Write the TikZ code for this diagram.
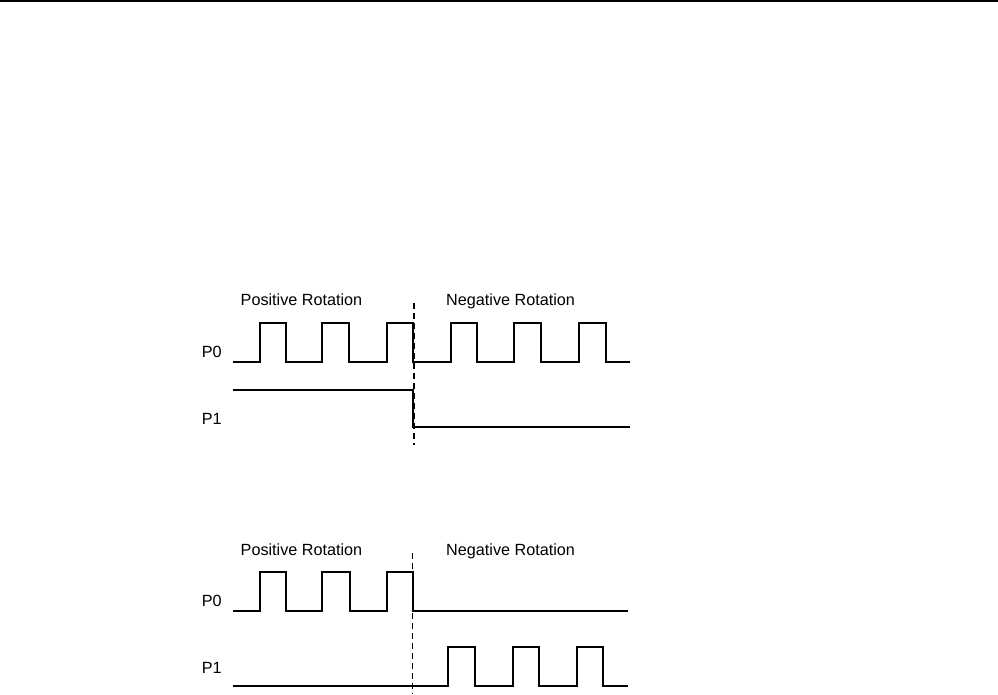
\documentclass[tikz,border=0pt]{standalone}
\usepackage{fontspec}
\setmainfont{Liberation Sans}
\begin{document}
\begin{tikzpicture}[x=1pt,y=-1pt,
  wave/.style={line width=2.2pt,line join=miter},
  marker/.style={line width=1.5pt,dash pattern=on 6pt off 4pt},
  lbl/.style={font=\fontsize{16.2}{19}\selectfont,anchor=base west,inner sep=0pt}]
\useasboundingbox (0,0) rectangle (998,694);
\draw[line width=1.6pt] (0,0.8) -- (998,0.8);
% ---------- top diagram ----------
\node[lbl] (tpos) at (240.5,305.7) {Positive Rotation};
\node[lbl] (tneg) at (446,305.7) {Negative Rotation};
\node[lbl] (tp0) at (201.7,357.3) {P0};
\node[lbl] (tp1) at (201.7,424) {P1};
\draw[wave] (233,362) -- (260,362) -- (260,323.3) -- (285.7,323.3) -- (285.7,362)
  -- (321.7,362) -- (321.7,323.3) -- (349.3,323.3) -- (349.3,362)
  -- (387.3,362) -- (387.3,323.3) -- (413.3,323.3) -- (413.3,362)
  -- (451,362) -- (451,323.3) -- (476.7,323.3) -- (476.7,362)
  -- (514.3,362) -- (514.3,323.3) -- (540.7,323.3) -- (540.7,362)
  -- (579.3,362) -- (579.3,323.3) -- (605.7,323.3) -- (605.7,362) -- (630,362);
\draw[wave] (233,390) -- (413,390) -- (413,426.7) -- (630,426.7);
\coordinate (tdtop) at (414,303);
\coordinate (tdbot) at (414,445);
\draw[marker] (tdtop) -- (tdbot);
% ---------- bottom diagram ----------
\node[lbl] (bpos) at (240.5,555.7) {Positive Rotation};
\node[lbl] (bneg) at (446,555.7) {Negative Rotation};
\node[lbl] (bp0) at (201.7,606.7) {P0};
\node[lbl] (bp1) at (201.7,673.3) {P1};
\draw[wave] (233,611) -- (260,611) -- (260,572.3) -- (285.7,572.3) -- (285.7,611)
  -- (321.7,611) -- (321.7,572.3) -- (350,572.3) -- (350,611)
  -- (387.3,611) -- (387.3,572.3) -- (412.7,572.3) -- (412.7,611) -- (628,611);
\draw[wave] (233,685.7) -- (448.3,685.7) -- (448.3,646.7) -- (475,646.7) -- (475,685.7)
  -- (512.7,685.7) -- (512.7,646.7) -- (539.3,646.7) -- (539.3,685.7)
  -- (577.3,685.7) -- (577.3,646.7) -- (602.7,646.7) -- (602.7,685.7) -- (628,685.7);
\coordinate (bdtop) at (412.7,553);
\coordinate (bdbot) at (412.7,694);
\draw[marker] (bdtop) -- (bdbot);
\end{tikzpicture}
\end{document}
